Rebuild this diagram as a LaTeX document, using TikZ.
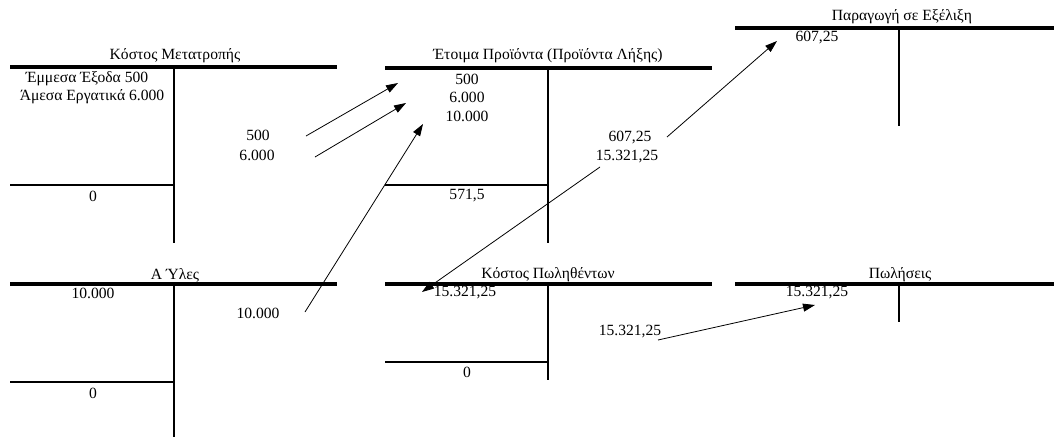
\documentclass[tikz,border=0pt]{standalone}
\usepackage{fontspec}
\setmainfont{Liberation Serif}
\usepackage{tikz}
\usetikzlibrary{arrows.meta, positioning, calc}

\begin{document}
\begin{tikzpicture}[x=0.75pt, y=-0.75pt,
    font=\fontsize{11.7}{13}\selectfont,
    bar/.style={line width=2.6pt},
    stem/.style={line width=1.3pt},
    flow/.style={-{Triangle[length=9pt,width=6pt]}, line width=0.6pt},
    amount/.style={inner sep=1pt}]

\useasboundingbox (0,0) rectangle (1054,437);

% Conversion cost account
\node (conv-title) at (175,56) {Κόστος Μετατροπής};
\coordinate (conv-l) at (10,67);
\coordinate (conv-r) at (337,67);
\coordinate (conv-top) at (174,67);
\coordinate (conv-bot) at (174,243);
\coordinate (conv-cl) at (10,185);
\coordinate (conv-cr) at (174,185);
\draw[bar] (conv-l) -- (conv-r);
\draw[stem] (conv-top) -- (conv-bot);
\draw[stem] (conv-cl) -- (conv-cr);
\node[amount] (conv-d1) at (87,79) {Έμμεσα Έξοδα 500};
\node[amount] (conv-d2) at (92,97) {Άμεσα Εργατικά 6.000};
\node[amount] (conv-c1) at (258,135) {500};
\node[amount] (conv-c2) at (257,155) {6.000};
\node[amount] (conv-bal) at (93,196) {0};

% Finished goods account
\node (fin-title) at (548,56) {Έτοιμα Προϊόντα (Προϊόντα Λήξης)};
\coordinate (fin-l) at (385,68);
\coordinate (fin-r) at (712,68);
\coordinate (fin-top) at (548,68);
\coordinate (fin-bot) at (548,243);
\coordinate (fin-cl) at (385,185);
\coordinate (fin-cr) at (548,185);
\draw[bar] (fin-l) -- (fin-r);
\draw[stem] (fin-top) -- (fin-bot);
\draw[stem] (fin-cl) -- (fin-cr);
\node[amount] (fin-d1) at (467,79) {500};
\node[amount] (fin-d2) at (467,97) {6.000};
\node[amount] (fin-d3) at (467,116) {10.000};
\node[amount] (fin-c1) at (630,138) {607,25};
\node[amount] (fin-c2) at (627,157) {15.321,25};
\node[amount] (fin-bal) at (467,196) {571,5};

% Work in progress account
\node (wip-title) at (902,17) {Παραγωγή σε Εξέλιξη};
\coordinate (wip-l) at (735,28);
\coordinate (wip-r) at (1054,28);
\coordinate (wip-top) at (899,28);
\coordinate (wip-bot) at (899,126);
\draw[bar] (wip-l) -- (wip-r);
\draw[stem] (wip-top) -- (wip-bot);
\node[amount] (wip-d1) at (817,38) {607,25};

% Raw materials account
\node (mat-title) at (175,275) {Α Ύλες};
\coordinate (mat-l) at (10,284);
\coordinate (mat-r) at (337,284);
\coordinate (mat-top) at (174,284);
\coordinate (mat-bot) at (174,437);
\coordinate (mat-cl) at (10,382);
\coordinate (mat-cr) at (174,382);
\draw[bar] (mat-l) -- (mat-r);
\draw[stem] (mat-top) -- (mat-bot);
\draw[stem] (mat-cl) -- (mat-cr);
\node[amount] (mat-d1) at (93,293) {10.000};
\node[amount] (mat-c1) at (258,313) {10.000};
\node[amount] (mat-bal) at (93,393) {0};

% Cost of goods sold account
\node (cogs-title) at (548,275) {Κόστος Πωληθέντων};
\coordinate (cogs-l) at (385,284);
\coordinate (cogs-r) at (712,284);
\coordinate (cogs-top) at (548,284);
\coordinate (cogs-bot) at (548,380);
\coordinate (cogs-cl) at (385,362);
\coordinate (cogs-cr) at (548,362);
\draw[bar] (cogs-l) -- (cogs-r);
\draw[stem] (cogs-top) -- (cogs-bot);
\draw[stem] (cogs-cl) -- (cogs-cr);
\node[amount] (cogs-d1) at (465,293) {15.321,25};
\node[amount] (cogs-c1) at (630,332) {15.321,25};
\node[amount] (cogs-bal) at (467,372) {0};

% Sales account
\node (sales-title) at (900,275) {Πωλήσεις};
\coordinate (sales-l) at (735,284);
\coordinate (sales-r) at (1054,284);
\coordinate (sales-top) at (899,284);
\coordinate (sales-bot) at (899,322);
\draw[bar] (sales-l) -- (sales-r);
\draw[stem] (sales-top) -- (sales-bot);
\node[amount] (sales-d1) at (817,293) {15.321,25};

% Transfers between accounts
\coordinate (t1-from) at (306,136);
\coordinate (t1-to) at (398,83);
\coordinate (t2-from) at (315,157);
\coordinate (t2-to) at (406,103);
\coordinate (t3-from) at (305,312);
\coordinate (t3-to) at (423,124);
\coordinate (t4-from) at (667,137);
\coordinate (t4-to) at (777,41);
\coordinate (t5-from) at (600,167);
\coordinate (t5-to) at (422,292);
\coordinate (t6-from) at (658,340);
\coordinate (t6-to) at (815,305);
\draw[flow] (t1-from) -- (t1-to);
\draw[flow] (t2-from) -- (t2-to);
\draw[flow] (t3-from) -- (t3-to);
\draw[flow] (t4-from) -- (t4-to);
\draw[flow] (t5-from) -- (t5-to);
\draw[flow] (t6-from) -- (t6-to);

\end{tikzpicture}
\end{document}
